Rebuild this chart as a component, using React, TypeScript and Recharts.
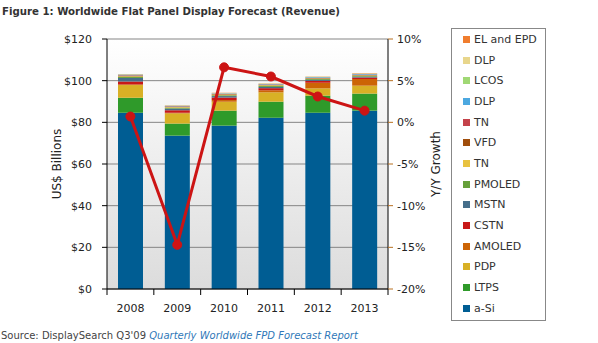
import React from 'react'
import {
  ComposedChart,
  Bar,
  Line,
  XAxis,
  YAxis,
  CartesianGrid,
} from 'recharts'

const years = ['2008', '2009', '2010', '2011', '2012', '2013']

// revenue, US$ billions (stack order bottom -> top)
const aSi = [84.6, 73.6, 78.4, 82.2, 84.6, 85.6]
const ltps = [7.2, 5.8, 7.2, 7.7, 8.2, 8.2]
const pdp = [6.1, 4.9, 4.3, 4.5, 3.5, 3.8]
const amoled = [0.3, 0.3, 0.8, 1.0, 2.7, 3.2]
const cstn = [1.4, 1.2, 1.2, 1.0, 0.9, 0.7]
const mstn = [1.7, 0.8, 0.7, 0.6, 0.5, 0.4]
const pmoled = [0.5, 0.4, 0.4, 0.5, 0.4, 0.4]
const tnYellow = [0.3, 0.3, 0.3, 0.3, 0.2, 0.2]
const vfd = [0.3, 0.2, 0.2, 0.2, 0.2, 0.2]
const tnRed = [0.2, 0.2, 0.2, 0.2, 0.2, 0.2]
const dlpBlue = [0.3, 0.2, 0.2, 0.2, 0.3, 0.3]
const lcos = [0.1, 0.1, 0.1, 0.1, 0.1, 0.1]
const dlpTan = [0.1, 0.1, 0.1, 0.1, 0.1, 0.1]
const elEpd = [0.1, 0.1, 0.1, 0.1, 0.1, 0.2]

// Y/Y growth, %
const growth = [0.7, -14.7, 6.6, 5.5, 3.1, 1.4]

const leftTicks = [0, 20, 40, 60, 80, 100, 120]
const rightTicks = [-20, -15, -10, -5, 0, 5, 10]

const series = [
  { key: 'aSi', name: 'a-Si', values: aSi, color: '#005d93' },
  { key: 'ltps', name: 'LTPS', values: ltps, color: '#2f9a2a' },
  { key: 'pdp', name: 'PDP', values: pdp, color: '#d8b025' },
  { key: 'amoled', name: 'AMOLED', values: amoled, color: '#cc6405' },
  { key: 'cstn', name: 'CSTN', values: cstn, color: '#c81818' },
  { key: 'mstn', name: 'MSTN', values: mstn, color: '#456e8a' },
  { key: 'pmoled', name: 'PMOLED', values: pmoled, color: '#66a03a' },
  { key: 'tnYellow', name: 'TN', values: tnYellow, color: '#e8c240' },
  { key: 'vfd', name: 'VFD', values: vfd, color: '#a04e0c' },
  { key: 'tnRed', name: 'TN', values: tnRed, color: '#c4424a' },
  { key: 'dlpBlue', name: 'DLP', values: dlpBlue, color: '#4ca8e0' },
  { key: 'lcos', name: 'LCOS', values: lcos, color: '#a0d874' },
  { key: 'dlpTan', name: 'DLP', values: dlpTan, color: '#e8d68c' },
  { key: 'elEpd', name: 'EL and EPD', values: elEpd, color: '#f07d2e' },
]

const data = years.map((year, i) => {
  const row: any = { year, growth: growth[i] }
  series.forEach((s) => {
    row[s.key] = s.values[i]
  })
  return row
})

const font = '"DejaVu Sans", Verdana, sans-serif'
const axisText = '#222'

const W = 598
const H = 343
const M = { top: 39, right: 150, left: 47, bottom: 30 }
const Y_AXIS_W = 60
const band = (W - M.left - M.right - 2 * Y_AXIS_W) / years.length

// category tick: label at the band centre, tick marks on the band edges
const YearTick = ({ x, y, payload, index }: any) => {
  const top = y - 8
  const left = x - band / 2
  return (
    <g>
      <line x1={left} y1={top} x2={left} y2={top + 6} stroke="#000" />
      {index === years.length - 1 && (
        <line x1={left + band} y1={top} x2={left + band} y2={top + 6} stroke="#000" />
      )}
      <text x={x} y={top + 23} textAnchor="middle" fontSize={11} fill={axisText} fontFamily={font}>
        {payload.value}
      </text>
    </g>
  )
}

const LegendBox = () => (
  <div
    style={{
      position: 'absolute',
      left: 451,
      top: 28,
      width: 95,
      height: 293,
      border: '1px solid #888',
      boxSizing: 'border-box',
      fontFamily: font,
      fontSize: 11,
      color: '#333',
      background: '#fff',
    }}
  >
    {[...series].reverse().map((s) => (
      <div key={s.key} style={{ display: 'flex', alignItems: 'center', height: 20.7 }}>
        <span
          style={{
            display: 'inline-block',
            width: 7,
            height: 7,
            background: s.color,
            marginLeft: 11,
            marginRight: 4,
          }}
        />
        <span>{s.name}</span>
      </div>
    ))}
  </div>
)

export default function App() {
  return (
    <div
      style={{
        position: 'absolute',
        left: 0,
        top: 0,
        width: W,
        height: H,
        background: '#fff',
        overflow: 'hidden',
      }}
    >
      <div
        style={{
          position: 'absolute',
          left: 2,
          top: 6,
          fontFamily: font,
          fontWeight: 'bold',
          fontSize: 10.2,
          color: '#333',
        }}
      >
        Figure 1: Worldwide Flat Panel Display Forecast (Revenue)
      </div>
      <ComposedChart
        width={W}
        height={H}
        data={data}
        margin={M}
        barCategoryGap={0}
        style={{ position: 'absolute', left: 0, top: 0 }}
      >
        <defs>
          <linearGradient id="plotBg" x1="0" y1="0" x2="0" y2="1">
            <stop offset="0%" stopColor="#ffffff" />
            <stop offset="100%" stopColor="#dcdcdc" />
          </linearGradient>
        </defs>
        <CartesianGrid
          yAxisId="left"
          vertical={false}
          stroke="#858585"
          strokeWidth={1}
          fill="url(#plotBg)"
          fillOpacity={1}
        />
        <XAxis
          dataKey="year"
          type="category"
          interval={0}
          tickLine={false}
          axisLine={{ stroke: '#000' }}
          tick={<YearTick />}
          height={24}
        />
        <YAxis
          yAxisId="left"
          orientation="left"
          domain={[0, 120]}
          ticks={leftTicks}
          interval={0}
          width={Y_AXIS_W}
          tickFormatter={(v) => `$${v}`}
          tick={{ fontSize: 11, fill: axisText, fontFamily: font }}
          tickLine={{ stroke: '#000' }}
          tickSize={5}
          tickMargin={10}
          axisLine={{ stroke: '#000' }}
          label={{
            value: 'US$ Billions',
            angle: -90,
            position: 'insideLeft',
            offset: 10,
            style: { fontSize: 12, fill: axisText, fontFamily: font, textAnchor: 'middle' },
          }}
        />
        <YAxis
          yAxisId="right"
          orientation="right"
          domain={[-20, 10]}
          ticks={rightTicks}
          interval={0}
          width={Y_AXIS_W}
          tickFormatter={(v) => `${v}%`}
          tick={{ fontSize: 11, fill: axisText, fontFamily: font }}
          tickLine={{ stroke: '#b87020' }}
          tickSize={5}
          tickMargin={4}
          axisLine={{ stroke: '#000' }}
          label={{
            value: 'Y/Y Growth',
            angle: -90,
            position: 'insideRight',
            offset: 12,
            style: { fontSize: 12, fill: axisText, fontFamily: font, textAnchor: 'middle' },
          }}
        />
        {series.map((s) => (
          <Bar
            key={s.key}
            dataKey={s.key}
            name={s.name}
            stackId="rev"
            yAxisId="left"
            fill={s.color}
            barSize={25}
            isAnimationActive={false}
          />
        ))}
        <Line
          dataKey="growth"
          yAxisId="right"
          type="linear"
          stroke="#cc1414"
          strokeWidth={3}
          dot={{ r: 4.5, fill: '#cc1414', stroke: '#cc1414', strokeWidth: 1 }}
          isAnimationActive={false}
        />
      </ComposedChart>
      <LegendBox />
      <div
        style={{
          position: 'absolute',
          left: 1,
          top: 330,
          fontFamily: font,
          fontSize: 10,
          color: '#444',
          whiteSpace: 'nowrap',
        }}
      >
        Source: DisplaySearch Q3&apos;09{' '}
        <span style={{ fontStyle: 'italic', color: '#2f78b8' }}>
          Quarterly Worldwide FPD Forecast Report
        </span>
      </div>
    </div>
  )
}
